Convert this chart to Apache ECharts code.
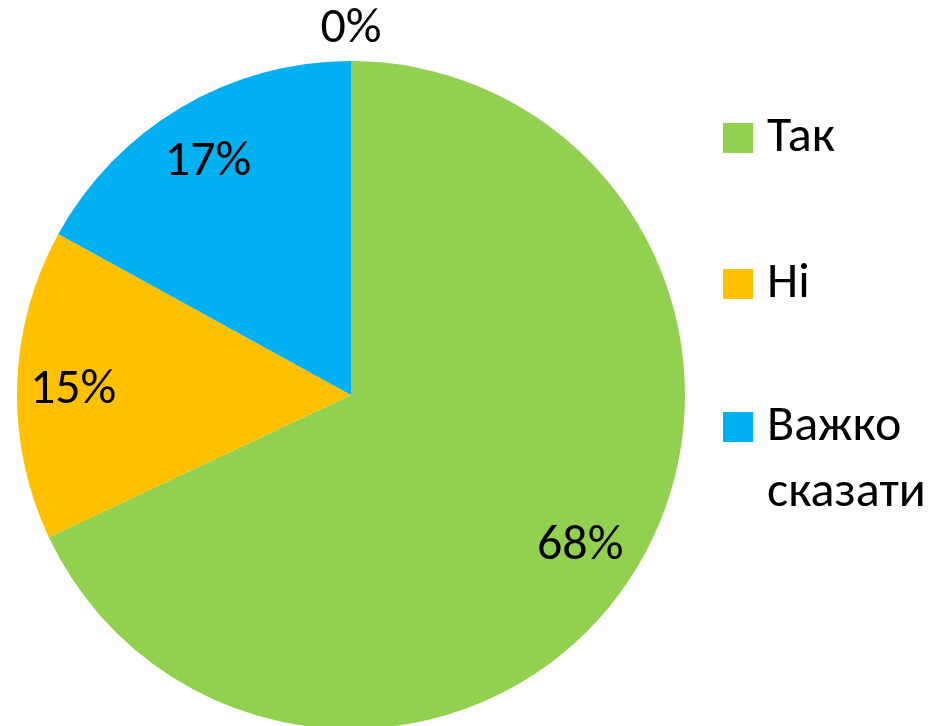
<!DOCTYPE html>
<html>
<head>
<meta charset="utf-8">
<script src="https://cdn.jsdelivr.net/npm/echarts@6/dist/echarts.min.js"></script>
<style>
  html, body { margin: 0; padding: 0; background: #fff; }
  #chart { width: 939px; height: 726px; }
</style>
</head>
<body>
<div id="chart"></div>
<script>
const categories = ["Так", "Ні", "Важко сказати", "Інше"];
const values = [68, 15, 17, 0];
const colors = ["#92D050", "#FFC000", "#00B0F0", "#A5A5A5"];

const font = "Carlito, Calibri, 'Open Sans', sans-serif";
const fontSize = 50;
const chart = echarts.init(document.getElementById("chart"));

const legendText = {
  fontFamily: font,
  fontSize: fontSize,
  color: "#000",
  rich: {
    t: { fontFamily: font, fontSize: fontSize, color: "#000", lineHeight: 66, padding: [0, 0, 0, 9] },
  },
};

const labelStyle = {
  show: true,
  position: "inside",
  formatter: "{c}%",
  fontFamily: font,
  fontSize: fontSize,
  color: "#000",
  offset: [-3, 4],
};

const option = {
  animation: false,
  legend: [
    {
      orient: "vertical",
      left: 723,
      top: 113,
      padding: 0,
      itemWidth: 30,
      itemHeight: 30,
      itemGap: 96,
      icon: "rect",
      data: categories.slice(0, 2),
      formatter: (name) => "{t|" + name + "}",
      textStyle: legendText,
    },
    {
      // wrapped entry: empty first line keeps the icon beside "Важко"
      orient: "vertical",
      left: 723,
      top: 336,
      padding: 0,
      itemWidth: 30,
      itemHeight: 30,
      icon: "rect",
      data: categories.slice(2, 3),
      formatter: (name) => "{t| }\n" + name.split(" ").map((w) => "{t|" + w + "}").join("\n"),
      textStyle: legendText,
    },
  ],
  series: [
    {
      type: "pie",
      center: [351, 395],
      radius: [0, 334],
      startAngle: 90,
      clockwise: true,
      silent: true,
      label: { show: false },
      labelLine: { show: false },
      data: categories.map((name, i) => ({
        name: name,
        value: values[i],
        itemStyle: { color: colors[i] },
      })),
    },
    {
      // label ring
      type: "pie",
      center: [351, 395],
      radius: [210, 334],
      startAngle: 90,
      clockwise: true,
      silent: true,
      legendHoverLink: false,
      itemStyle: { color: "transparent" },
      label: labelStyle,
      labelLine: { show: false },
      data: categories.map((name, i) => ({
        name: name,
        value: values[i],
        label: { show: values[i] > 0 },
      })),
    },
    {
      // outer ring for the zero-value label
      type: "pie",
      center: [351, 395],
      radius: [344, 382],
      startAngle: 90,
      clockwise: true,
      silent: true,
      legendHoverLink: false,
      itemStyle: { color: "transparent" },
      label: Object.assign({}, labelStyle, { offset: [0, 0] }),
      labelLine: { show: false },
      data: categories.map((name, i) => ({
        name: name,
        value: values[i],
        label: { show: values[i] === 0 },
      })),
    },
  ],
};

chart.setOption(option);
</script>
</body>
</html>
